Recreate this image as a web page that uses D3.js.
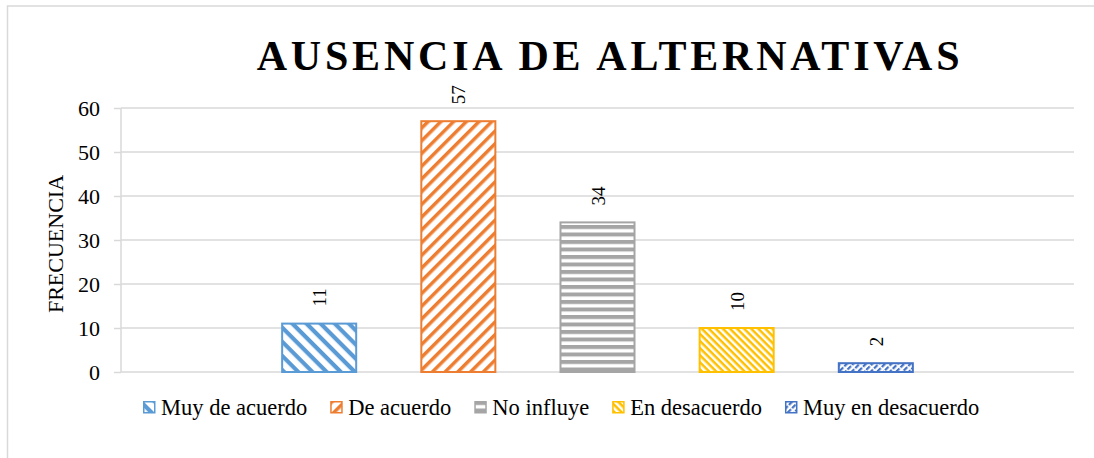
<!DOCTYPE html>
<html><head><meta charset="utf-8">
<script src="https://cdn.jsdelivr.net/npm/d3@7"></script>
<style>body{margin:0;background:#fff}svg{display:block}</style>
</head><body><svg id="c" width="1094" height="458"></svg>
<script>
const categories = ["Muy de acuerdo","De acuerdo","No influye","En desacuerdo","Muy en desacuerdo"];
const values = [11,57,34,10,2];
const colors = ["#5B9BD5","#ED7D31","#A5A5A5","#FFC000","#4472C4"];
const yTicks = [0,10,20,30,40,50,60];
const title = "AUSENCIA DE ALTERNATIVAS";
const yTitle = "FRECUENCIA";

const FONT = "'Liberation Serif','Times New Roman',Times,'DejaVu Serif',serif";
const svg = d3.select("#c").style("font-family", FONT);
const defs = svg.append("defs");
function pat(id, w, h, rot, color, thick, dashW){
  const p = defs.append("pattern").attr("id",id).attr("patternUnits","userSpaceOnUse")
    .attr("width",w).attr("height",h).attr("patternTransform","rotate("+rot+")");
  p.append("rect").attr("width",w).attr("height",h).attr("fill","#fff");
  p.append("rect").attr("x",0).attr("y",0).attr("width",dashW||w).attr("height",thick).attr("fill",color);
}
pat("p0", 10, 10, 45, colors[0], 4.2);
pat("p1", 9, 9, -45, colors[1], 3.5);
pat("p2", 7.5, 7.5, 0, colors[2], 4);
pat("p3", 5, 5, 45, colors[3], 2.5);
pat("p4", 6.5, 4.5, -45, colors[4], 2.2, 5);

// frame
svg.append("rect").attr("x",7.5).attr("y",6).attr("width",1100).attr("height",470)
  .attr("fill","none").attr("stroke","#d9d9d9").attr("stroke-width",1.5);

const x0=121, x1=1074, yTop=108, yBot=372;
const y = d3.scaleLinear().domain([0,60]).range([yBot,yTop]);
const x = d3.scaleBand().domain(categories).range([x0,x1]).paddingInner(0.468).paddingOuter(1.158);

svg.append("g").selectAll("line").data(yTicks).join("line")
  .attr("x1",x0).attr("x2",x1).attr("y1",d=>y(d)).attr("y2",d=>y(d))
  .attr("stroke","#d9d9d9").attr("stroke-width",1.5);

const ax = svg.append("g").attr("transform","translate("+x0+",0)")
  .call(d3.axisLeft(y).tickValues(yTicks).tickSize(7).tickPadding(14));
ax.attr("font-family", null).attr("font-size", null);
ax.select(".domain").attr("stroke","#d9d9d9").attr("stroke-width",1.5).attr("d","M0,"+yTop+"V"+yBot);
ax.selectAll(".tick line").attr("stroke","#d9d9d9").attr("stroke-width",1.5);
ax.selectAll(".tick text").style("font-family",FONT).attr("font-size",22).attr("fill","#000").attr("dy","0.34em");

svg.append("text").attr("transform","translate(63,244) rotate(-90)").attr("text-anchor","middle")
  .style("font-family",FONT).attr("font-size",22).text(yTitle);

svg.append("text").attr("x",610).attr("y",70).attr("text-anchor","middle")
  .style("font-family",FONT).attr("font-size",42).attr("font-weight","bold").attr("letter-spacing","3.8px").text(title);

svg.append("g").selectAll("rect").data(categories).join("rect")
  .attr("x",d=>x(d)).attr("width",x.bandwidth())
  .attr("y",(d,i)=>y(values[i])).attr("height",(d,i)=>yBot-y(values[i]))
  .attr("fill",(d,i)=>"url(#p"+i+")").attr("stroke",(d,i)=>colors[i]).attr("stroke-width",2);

svg.append("g").selectAll("text").data(categories).join("text")
  .attr("transform",(d,i)=>"translate("+(x(d)+x.bandwidth()/2+7)+","+(y(values[i])-17)+") rotate(-90)")
  .attr("text-anchor","start").style("font-family",FONT).attr("font-size",19).text((d,i)=>values[i]);

// legend
const lg = svg.append("g");
let cx = 143;
categories.forEach((c,i)=>{
  const g = lg.append("g").attr("transform","translate("+cx+",401)");
  g.append("rect").attr("x",0.75).attr("y",0.75).attr("width",11).attr("height",11).attr("fill","url(#p"+i+")")
    .attr("stroke",colors[i]).attr("stroke-width",1.5);
  const t = g.append("text").attr("x",18).attr("y",14).style("font-family",FONT).attr("font-size",22.5).text(c);
  cx += 18 + t.node().getComputedTextLength() + 23;
});
</script></body></html>
